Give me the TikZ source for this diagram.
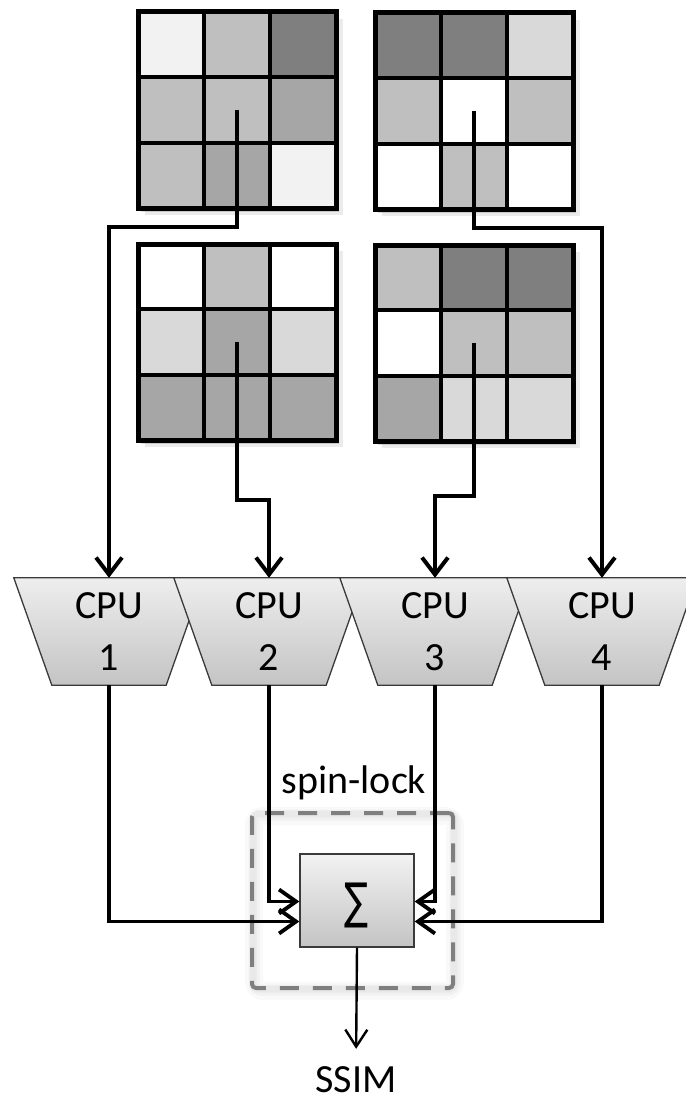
\documentclass[tikz,border=0pt]{standalone}
\usepackage{fontspec}
\usepackage{graphicx}
\setmainfont{Carlito}
\newfontfamily\symfnt{DejaVu Sans}
\usetikzlibrary{arrows.meta,calc}
\definecolor{cF2}{HTML}{F2F2F2}
\definecolor{cD9}{HTML}{D9D9D9}
\definecolor{cBF}{HTML}{BFBFBF}
\definecolor{cA6}{HTML}{A6A6A6}
\definecolor{c7F}{HTML}{7F7F7F}
\definecolor{cFF}{HTML}{FFFFFF}
\definecolor{edge}{HTML}{3A3A3A}
\definecolor{shTop}{HTML}{EEEEEE}
\definecolor{shBot}{HTML}{C4C4C4}
\newcommand\mygrid[4]{%
  \fill[black,opacity=.08] (#2+7,#3+7) rectangle ++(198,196);
  \fill[black,opacity=.14] (#2+3,#3+4) rectangle ++(198,196);
  \foreach \cc [count=\i from 0] in {#4} {
    \pgfmathtruncatemacro\row{\i/3}
    \pgfmathtruncatemacro\col{mod(\i,3)}
    \filldraw[fill=\cc, draw=black, line width=4pt] (#2+\col*66,#3+\row*65.333) rectangle ++(66,65.333);
  }
  \draw[line width=5pt] (#2,#3) rectangle ++(198,196);
  \coordinate (#1) at (#2+99,#3+98);
}
\begin{document}
\begin{tikzpicture}[x=1pt,y=-1pt,
  conn/.style={line width=4pt, -{Straight Barb[length=17pt,width=26pt]}},
  conn2/.style={line width=3.8pt, -{Straight Barb[length=17pt,width=24pt]}},
  thinconn/.style={line width=2.4pt, -{Straight Barb[length=17pt,width=22pt]}},
  cpuanchor/.style={minimum width=114pt, minimum height=107pt, inner sep=0pt, draw=none},
  cpushape/.style={draw=edge, line width=1.3pt, top color=shTop, bottom color=shBot},
  cputext/.style={align=center, inner sep=0pt, font=\fontsize{40}{52}\selectfont},
  sumbox/.style={draw=edge, line width=1.3pt, top color=cF2, bottom color=shBot, minimum width=114pt, minimum height=93pt, inner sep=0pt},
  lockbox/.style={draw=c7F, line width=4pt, dash pattern=on 19pt off 14pt, rounded corners=4pt, minimum width=201pt, minimum height=175pt, inner sep=0pt},
  lbl/.style={font=\fontsize{40}{48}\selectfont, inner sep=0pt}
]
\useasboundingbox (0,0) rectangle (685,1102);
\fill[white] (0,0) rectangle (685,1102);

% grids
\mygrid{g1}{138}{12}{cF2,cBF,c7F,cBF,cBF,cA6,cBF,cA6,cF2}
\mygrid{g2}{375}{13}{c7F,c7F,cD9,cBF,cFF,cBF,cFF,cBF,cFF}
\mygrid{g3}{138}{244}{cFF,cBF,cFF,cD9,cA6,cD9,cA6,cA6,cA6}
\mygrid{g4}{375}{245}{cBF,c7F,c7F,cFF,cBF,cBF,cA6,cD9,cD9}

% CPUs
\foreach \n/\cx in {1/109, 2/269, 3/435, 4/602} {
  \node[cpuanchor] (cpu\n) at (\cx,631.5) {};
  \path[cpushape] ($(cpu\n.north west)+(-38,0)$) -- ($(cpu\n.north east)+(38,0)$) -- (cpu\n.south east) -- (cpu\n.south west) -- cycle;
  \node[cputext] (cput\n) at (cpu\n.center) {CPU\\\n};
}

% connectors from grids
\draw[conn] (g1) -- ++(0,117) -| (cpu1.north);
\draw[conn] (g2) -- ++(0,117) -| (cpu4.north);
\draw[conn] (g3) -- ++(0,158) -| (cpu2.north);
\draw[conn] (g4) -- ++(0,153) -| (cpu3.north);

% spin-lock box with soft glow
\draw[line width=18pt, black, opacity=.025, rounded corners=9pt] (254,816) rectangle (455,991);
\draw[line width=11pt, black, opacity=.03, rounded corners=7pt] (254,815) rectangle (455,990);
\draw[line width=7pt, black, opacity=.03, rounded corners=5pt] (253,814) rectangle (454,989);
\node[lockbox] (lock) at (352.5,900.5) {};
\node[lbl, anchor=base] (locklbl) at (354,793) {spin-lock};

% sum
\node[sumbox] (sum) at (357,900.5) {};
\node[inner sep=0pt] (sig) at (356,905.5) {\resizebox*{24pt}{45pt}{\symfnt ∑}};

\draw[conn2] (cpu1.south) |- ($(sum.west)+(0,21)$);
\draw[conn2] (cpu2.south) |- ($(sum.west)+(0,1)$);
\draw[conn2] (cpu3.south) |- ($(sum.east)+(0,1)$);
\draw[conn2] (cpu4.south) |- ($(sum.east)+(0,21)$);

% output
\node[lbl, anchor=base] (ssim) at (356,1092) {SSIM};
\draw[thinconn, shorten >=17pt] (sum.south) -- (ssim.north);
\end{tikzpicture}
\end{document}
